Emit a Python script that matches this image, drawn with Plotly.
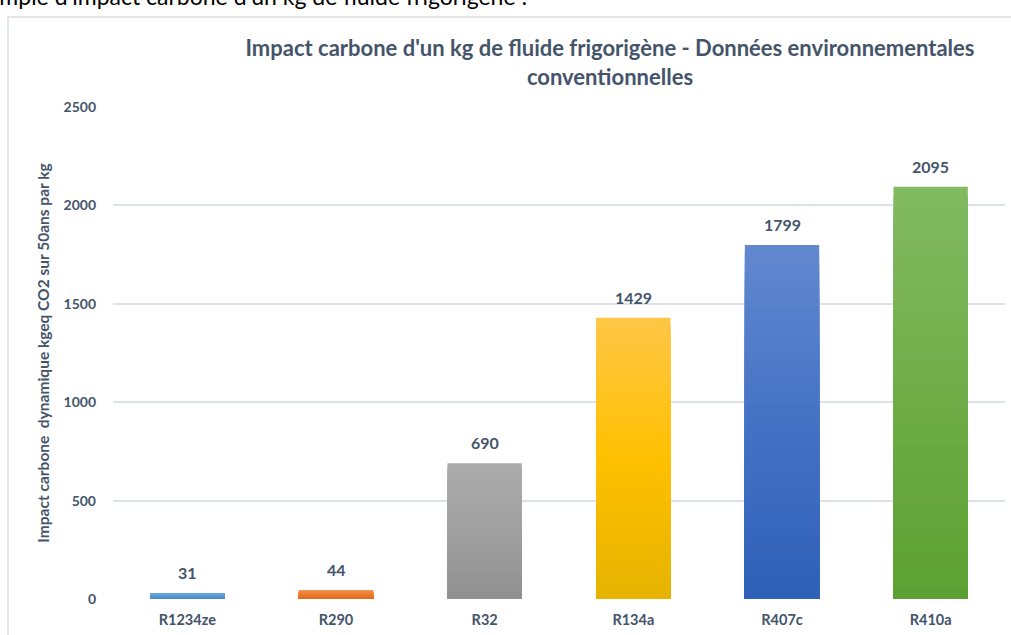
import plotly.graph_objects as go

categories = ["R1234ze", "R290", "R32", "R134a", "R407c", "R410a"]
values = [31, 44, 690, 1429, 1799, 2095]
labels = ["31", "44", "690", "1429", "1799", "2095"]
y_ticks = [0, 500, 1000, 1500, 2000, 2500]

# gradient stops per bar: (top, middle, bottom)
grad = [
    ("#6fa9de", "#5b9bd5", "#4a8acb"),
    ("#f28f4f", "#ed7d31", "#e06c20"),
    ("#acacac", "#a0a0a0", "#909090"),
    ("#ffc747", "#ffc000", "#e5b300"),
    ("#6289cf", "#4472c4", "#2e60b8"),
    ("#82ba63", "#70ad47", "#5ca032"),
]

W, H = 1011, 635
L, R, T, B = 113, 6, 107, 36
TXT = "#44546a"
FONT = "Lato"


def hex2rgb(h):
    h = h.lstrip("#")
    return tuple(int(h[i:i + 2], 16) for i in (0, 2, 4))


def mix(c1, c2, t):
    a, b = hex2rgb(c1), hex2rgb(c2)
    return "rgb(%d,%d,%d)" % tuple(round(a[k] + (b[k] - a[k]) * t) for k in range(3))


def color_at(stops, f):
    top, mid, bot = stops
    if f < 0.5:
        return mix(bot, mid, f / 0.5)
    return mix(mid, top, (f - 0.5) / 0.5)


N = 40
fig = go.Figure()
# tallest layer first, shorter layers drawn over it -> smooth vertical gradient
for i in range(N):
    frac_top = (N - i) / N
    f = (N - i - 0.5) / N
    fig.add_trace(go.Bar(
        x=categories,
        y=[v * frac_top for v in values],
        marker=dict(color=[color_at(g, f) for g in grad], line=dict(width=0)),
        width=0.5,
        showlegend=False,
        hoverinfo="skip",
    ))

for c, v, lab in zip(categories, values, labels):
    fig.add_annotation(x=c, y=v, text="<b>%s</b>" % lab, showarrow=False,
                       yanchor="bottom", yshift=9,
                       font=dict(family=FONT, size=16, color=TXT))


def px_x(p):
    return (p - L) / (W - L - R)


def px_y(p):
    return (H - B - p) / (H - T - B)


# document frame
fig.add_shape(type="rect", xref="paper", yref="paper",
              x0=px_x(8), x1=px_x(1030), y0=px_y(660), y1=px_y(17),
              line=dict(color="#d9dde3", width=1.5), layer="below")

# clipped document sentence at the very top
fig.add_annotation(xref="paper", yref="paper", x=px_x(529), y=px_y(12),
                   xanchor="right", yanchor="bottom", showarrow=False,
                   text="Exemple d'impact carbone d'un kg de fluide frigorigène :",
                   font=dict(family=FONT, size=23, color="#000000"))

fig.update_layout(
    width=W, height=H,
    margin=dict(l=L, r=R, t=T, b=B),
    paper_bgcolor="white", plot_bgcolor="white",
    barmode="overlay",
    title=dict(
        text="<b>Impact carbone d'un kg de fluide frigorigène - Données environnementales<br>conventionnelles</b>",
        x=610 / W, xanchor="center",
        y=1 - 56 / H, yanchor="middle",
        font=dict(family=FONT, size=22, color=TXT),
    ),
    xaxis=dict(
        showgrid=False, showline=False, ticks="",
        ticklabelstandoff=10,
        tickfont=dict(family=FONT, size=14.5, color=TXT, weight="bold"),
    ),
    yaxis=dict(
        range=[0, 2500], tickvals=y_ticks, ticktext=[str(t) for t in y_ticks],
        showgrid=True, gridcolor="#dde2ea", gridwidth=1.5,
        zeroline=False, showline=False, ticks="",
        ticklabelstandoff=16,
        tickfont=dict(family=FONT, size=14, color=TXT, weight="bold"),
        title=dict(text="<b>Impact carbone  dynamique kgeq CO2 sur 50ans par kg</b>",
                   font=dict(family=FONT, size=15.5, color=TXT), standoff=10),
    ),
)

fig.write_html("out.html")
